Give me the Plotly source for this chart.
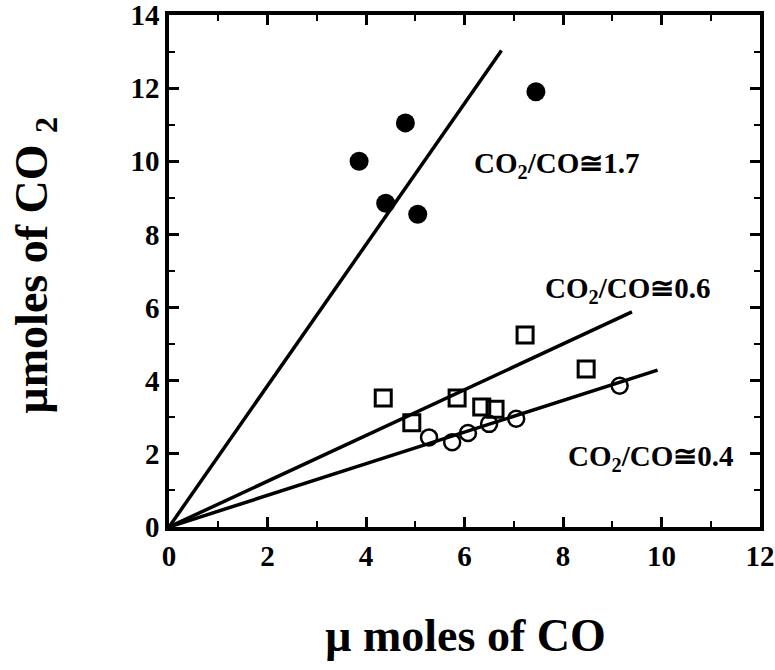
import plotly.graph_objects as go

# Data
filled_x = [3.86, 4.4, 4.8, 5.05, 7.45]
filled_y = [10.0, 8.85, 11.05, 8.55, 11.9]

square_x = [4.35, 4.93, 5.85, 6.35, 6.62, 7.23, 8.47]
square_y = [3.53, 2.85, 3.53, 3.28, 3.22, 5.25, 4.32]

open_x = [5.28, 5.75, 6.07, 6.5, 7.05, 9.15]
open_y = [2.45, 2.32, 2.57, 2.82, 2.96, 3.86]

# fitted lines start at the origin
line_end_x = [6.75, 9.4, 9.92]
line_end_y = [13.03, 5.88, 4.29]

labels = ["CO<sub>2</sub>/CO≅1.7", "CO<sub>2</sub>/CO≅0.6", "CO<sub>2</sub>/CO≅0.4"]
label_x = [7.86, 9.3, 9.77]
label_y = [9.9, 6.48, 1.89]

x_title = "µ moles of CO"
y_title = "µmoles of CO <sub>2</sub>"

FONT = "Liberation Serif, Times New Roman, serif"

fig = go.Figure()
for ex, ey in zip(line_end_x, line_end_y):
    fig.add_trace(go.Scatter(x=[0, ex], y=[0, ey], mode="lines",
                             line=dict(color="black", width=3.5), showlegend=False))

fig.add_trace(go.Scatter(x=filled_x, y=filled_y, mode="markers",
                         marker=dict(symbol="circle", size=19, color="black"),
                         showlegend=False))
fig.add_trace(go.Scatter(x=square_x, y=square_y, mode="markers",
                         marker=dict(symbol="square-open", size=16, color="black",
                                     line=dict(width=3)),
                         showlegend=False))
fig.add_trace(go.Scatter(x=open_x, y=open_y, mode="markers",
                         marker=dict(symbol="circle-open", size=16, color="black",
                                     line=dict(width=2.5)),
                         showlegend=False))

for t, x, y in zip(labels, label_x, label_y):
    fig.add_annotation(x=x, y=y, text=t, showarrow=False,
                       font=dict(family=FONT, size=29, color="black", weight="bold"))

fig.add_annotation(xref="paper", yref="paper", x=0.5025, y=-0.211, text=x_title,
                   showarrow=False, xanchor="center", yanchor="middle",
                   font=dict(family=FONT, size=46, color="black", weight="bold"))
fig.add_annotation(xref="paper", yref="paper", x=-0.227, y=0.512, text=y_title,
                   showarrow=False, textangle=-90, xanchor="center", yanchor="middle",
                   font=dict(family=FONT, size=46, color="black", weight="bold"))

axis_common = dict(
    showline=True, linecolor="black", linewidth=3.5, mirror="ticks",
    ticks="inside", ticklen=10, tickwidth=2.5, tickcolor="black",
    showgrid=False, zeroline=False, automargin=False,
    ticklabeloverflow="allow",
    tickfont=dict(family=FONT, size=29, color="black", weight="bold"),
)

fig.update_xaxes(range=[0, 12], dtick=2, tick0=0,
                 minor=dict(dtick=1, ticks="inside", ticklen=6, tickwidth=2, tickcolor="black"),
                 **axis_common)
fig.update_yaxes(range=[0, 14], dtick=2, tick0=0,
                 minor=dict(dtick=1, ticks="inside", ticklen=6, tickwidth=2, tickcolor="black"),
                 **axis_common)

fig.update_layout(
    width=775, height=670,
    margin=dict(l=169, r=15, t=15, b=143),
    paper_bgcolor="white", plot_bgcolor="white",
)

fig.write_html("out.html")
